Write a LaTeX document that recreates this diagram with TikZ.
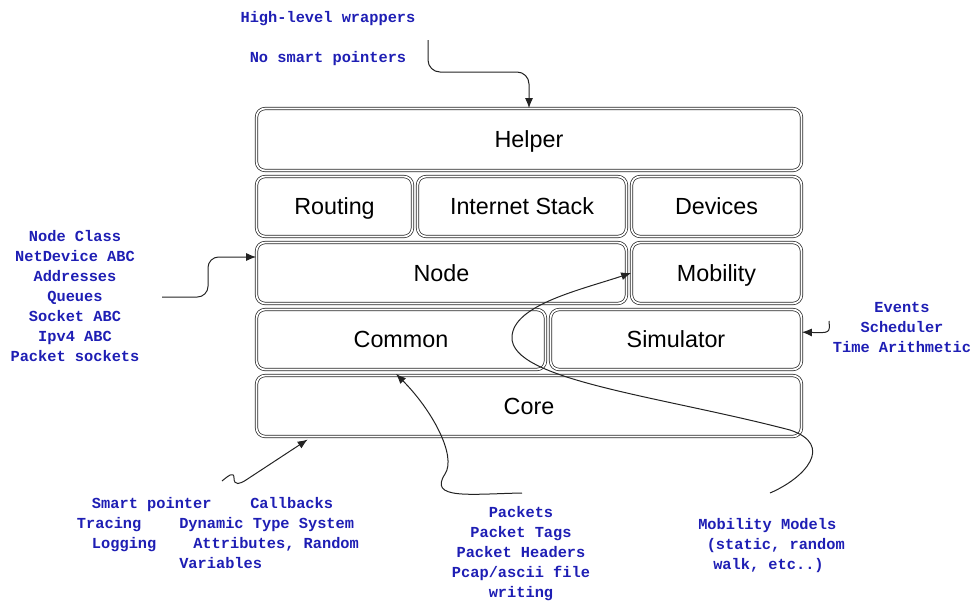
\documentclass[tikz,border=0pt]{standalone}
\usepackage{fontspec}
\setmainfont{Liberation Sans}
\newfontfamily\codefont{Liberation Mono}
\usetikzlibrary{arrows.meta}
\definecolor{noteblue}{RGB}{30,30,180}
\definecolor{edgegray}{RGB}{35,35,35}

% one stacked layer: name, x1, y1, x2, y2, label (pixel-like units)
\newcommand\layerbox[6]{%
  \node[layer, minimum width={(#4-#2-3)*0.75pt}, minimum height={(#5-#3-3)*0.75pt}]
    (#1) at ({(#2+#4)/2},{(#3+#5)/2}) {#6};}

\begin{document}
\begin{tikzpicture}[x=0.75pt,y=-0.75pt,
  layer/.style={draw=black!85, double=white, double distance=1.3pt, line width=0.55pt,
    rounded corners=6.5pt, inner sep=0pt, text height=12.5pt, text depth=0pt,
    font=\fontsize{17.5}{21}\selectfont},
  note/.style={text=noteblue, font=\codefont\bfseries\fontsize{11.5}{15}\selectfont,
    inner sep=0pt, align=center},
  line/.style={note, anchor=base west},
  conn/.style={draw=edgegray, line width=0.75pt, -{Latex[length=7.5pt,width=6pt]}},
]
\useasboundingbox (0,0) rectangle (975,603);

% the layer stack
\layerbox{Helper}{255}{107}{803}{172}{Helper}
\layerbox{Routing}{255}{175}{414}{238}{Routing}
\layerbox{Stack}{416}{175}{628}{238}{Internet Stack}
\layerbox{Devices}{630}{175}{803}{238}{Devices}
\layerbox{Node}{255}{241}{628}{305}{Node}
\layerbox{Mobility}{630}{241}{803}{305}{Mobility}
\layerbox{Common}{255}{308}{547}{371}{Common}
\layerbox{Simulator}{549}{308}{803}{371}{Simulator}
\layerbox{Core}{255}{374}{803}{438}{Core}

% annotations
\node[note] (wrapA) at (328,19) {High-level wrappers};
\node[note] (wrapB) at (328,59) {No smart pointers};
\node[note] (nodenotes) at (75,296) {Node Class\\NetDevice ABC\\Addresses\\Queues\\Socket ABC\\Ipv4 ABC\\Packet sockets};
\node[note] (simnotes) at (902,327) {Events\\Scheduler\\Time Arithmetic};
\node[note] (pktnotes) at (521,554) {Packets\\Packet Tags\\Packet Headers\\Pcap/ascii file\\writing};
\node[line] (mobA) at (698,529) {Mobility Models};
\node[line] (mobB) at (706.5,549) {(static, random};
\node[line] (mobC) at (713,569) {walk, etc..)};
\node[line] (coreA) at (91.7,508) {Smart pointer};
\node[line] (coreB) at (250,508) {Callbacks};
\node[line] (coreC) at (76.7,528) {Tracing};
\node[line] (coreD) at (179,528) {Dynamic Type System};
\node[line] (coreE) at (91.7,548) {Logging};
\node[line] (coreF) at (193,548) {Attributes, Random};
\node[line] (coreG) at (179,568) {Variables};

% connectors
\coordinate (wrapsrc) at (428,40);
\coordinate (wrapbend) at (529,72);
\draw[conn, rounded corners=9pt] (wrapsrc) |- (wrapbend) -- (Helper.north);

\coordinate (nodesrc) at (162,297);
\coordinate (nodebend) at (208,297);
\draw[conn, rounded corners=8pt] (nodesrc) -- (nodebend) |- ([yshift=12pt]Node.west);

\coordinate (simsrc) at (829,321);
\draw[conn] (simsrc) .. controls (830,333) .. ([yshift=5.5pt]Simulator.east);

\coordinate (coresrc) at (222,481);
\draw[conn] (coresrc) .. controls (228,476) and (234,471) .. (234,478)
  .. controls (234,486) and (240,484) .. (246,480) -- ([xshift=-166pt,yshift=-2pt]Core.south);

\coordinate (commsrc) at (522,493);
\draw[conn] (commsrc) .. controls (470,494) and (428,500) .. (445,474)
  .. controls (457,456) and (432,410) .. ([xshift=-3.75pt,yshift=-3pt]Common.south);

\coordinate (mobsrc) at (770,493);
\draw[conn] (mobsrc) .. controls (805,478) and (835,445) .. (790,430)
  .. controls (660,396) and (510,380) .. (512,337)
  .. controls (513,305) and (580,290) .. (Mobility.west);
\end{tikzpicture}
\end{document}
